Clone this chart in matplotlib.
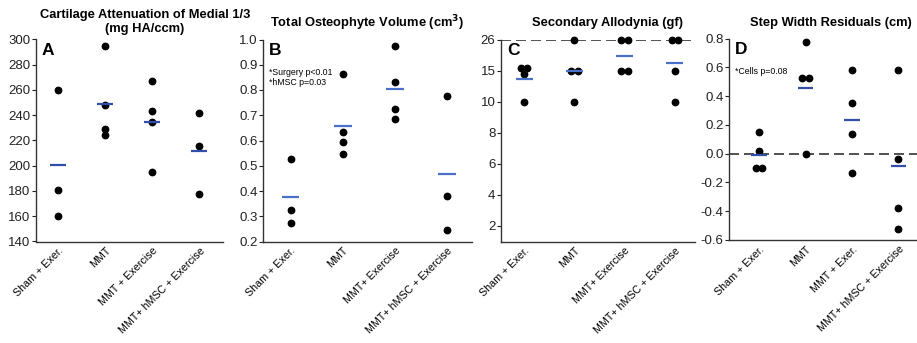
import numpy as np
import matplotlib
matplotlib.use('Agg')
import matplotlib.pyplot as plt
from matplotlib.transforms import ScaledTranslation

plt.rcParams['font.family'] = ['Liberation Sans', 'DejaVu Sans']

# data
groups_a = ['Sham + Exer.', 'MMT', 'MMT + Exercise', 'MMT+ hMSC + Exercise']
groups_b = ['Sham + Exer.', 'MMT', 'MMT+ Exercise', 'MMT+ hMSC + Exercise']
groups_c = ['Sham + Exer.', 'MMT', 'MMT+ Exercise', 'MMT+ hMSC + Exercise']
groups_d = ['Sham + Exer.', 'MMT', 'MMT + Exer.', 'MMT+ hMSC + Exercise']

cart_atten = [[260, 181, 160], [295, 248, 229, 224], [267, 243, 235, 195], [242, 216, 178]]
osteo_vol = [[0.525, 0.325, 0.275], [0.865, 0.632, 0.595, 0.545],
             [0.975, 0.83, 0.725, 0.687], [0.775, 0.38, 0.245]]
allodynia = [[15, 15, 15, 10], [26, 15, 15, 10], [26, 26, 15, 15], [26, 26, 15, 10]]
allodynia_means = [13.6, 15.0, 20.2, 17.8]
step_width = [[0.15, 0.02, -0.1, -0.1], [0.78, 0.53, 0.53, 0.0],
              [0.58, 0.355, 0.135, -0.135], [0.585, -0.035, -0.375, -0.525]]

c_ticks = [2, 4, 6, 8, 10, 15, 26]
c_pos = [1, 2, 3, 4, 5, 6, 7]


def c_fwd(v):
    return np.interp(v, [0] + c_ticks, [0] + c_pos)


def c_inv(p):
    return np.interp(p, [0] + c_pos, [0] + c_ticks)


fig = plt.figure(figsize=(9.17, 3.43), dpi=100)
W, H = 917, 343


def add_ax(x0, x1, y0=39.5, y1=241.5):
    return fig.add_axes([x0 / W, 1 - y1 / H, (x1 - x0) / W, (y1 - y0) / H])


def scatter_group(ax, i, vals, mean, mcolor):
    # spread duplicated values side by side like the original dot plot
    vals = list(vals)
    done = set()
    for v in vals:
        if v in done:
            continue
        done.add(v)
        n = vals.count(v)
        if n == 1:
            offs = [(0, 0)]
        elif n == 2:
            offs = [(-2.3, 0), (2.3, 0)]
        else:
            offs = [(-2.3, 1.8), (2.3, 1.8), (0, -2.3)]
        for dx, dy in offs:
            tr = ax.transData + ScaledTranslation(dx / 72, dy / 72, fig.dpi_scale_trans)
            ax.plot([i], [v], 'o', color='black', ms=4.6, transform=tr, zorder=3, clip_on=False)
    ax.hlines(mean, i - 0.17, i + 0.17, color=mcolor, lw=1.6, zorder=4)


def style(ax, groups, letter):
    for s in ['top', 'right']:
        ax.spines[s].set_visible(False)
    for s in ['left', 'bottom']:
        ax.spines[s].set_linewidth(1.0)
        ax.spines[s].set_color('#333333')
    ax.set_xticks(range(len(groups)))
    ax.set_xticklabels(groups, rotation=45, ha='right', rotation_mode='anchor', fontsize=7.7)
    ax.tick_params(axis='x', length=0, pad=3)
    ax.tick_params(axis='y', length=3, labelsize=9.5, colors='#222222', pad=1)
    ax.text(0.03, 0.985, letter, transform=ax.transAxes, fontsize=12.5, fontweight='bold', va='top')


# A
axA = add_ax(36, 223)
for i, vals in enumerate(cart_atten):
    scatter_group(axA, i, vals, np.mean(vals), '#2f4fa8')
axA.set_ylim(140, 300)
axA.set_yticks(range(140, 301, 20))
axA.set_xlim(-0.47, 3.5)
style(axA, groups_a, 'A')
fig.text(145 / W, 1 - 22 / H, 'Cartilage Attenuation of Medial 1/3\n(mg HA/ccm)', ha='center', va='center',
         fontsize=9.3, fontweight='bold', linespacing=1.15)

# B
axB = add_ax(263, 472)
for i, vals in enumerate(osteo_vol):
    scatter_group(axB, i, vals, np.mean(vals), '#4a70c8')
axB.set_ylim(0.2, 1.0)
axB.set_yticks(np.arange(0.2, 1.01, 0.1))
axB.set_yticklabels([f'{t:.1f}' for t in np.arange(0.2, 1.01, 0.1)])
axB.set_xlim(-0.53, 3.48)
style(axB, groups_b, 'B')
axB.text(0.03, 0.86, '*Surgery p<0.01\n*hMSC p=0.03', transform=axB.transAxes, fontsize=6.3, va='top')
fig.text(367 / W, 1 - 23 / H, 'Total Osteophyte Volume (cm$^\\mathbf{3}$)', ha='center', va='center',
         fontsize=9.3, fontweight='bold')

# C
axC = add_ax(501, 695)
axC.set_yscale('function', functions=(c_fwd, c_inv))
axC.axhline(26, color='#333333', lw=1.2, ls=(0, (6, 3)), zorder=1)
for i, vals in enumerate(allodynia):
    scatter_group(axC, i, vals, allodynia_means[i], '#4a70c8')
axC.set_ylim(1, 26)
axC.set_yticks(c_ticks)
axC.set_yticklabels([str(t) for t in c_ticks])
axC.minorticks_off()
axC.set_xlim(-0.46, 3.4)
style(axC, groups_c, 'C')
fig.text(607 / W, 1 - 23 / H, 'Secondary Allodynia (gf)', ha='center', va='center',
         fontsize=9.3, fontweight='bold')

# D
axD = add_ax(729, 917, 38.7, 240)
axD.axhline(0, color='#333333', lw=1.2, ls=(0, (6, 3)), zorder=1)
for i, vals in enumerate(step_width):
    scatter_group(axD, i, vals, np.mean(vals), '#2f4fa8')
axD.set_ylim(-0.6, 0.8)
axD.set_yticks(np.arange(-0.6, 0.81, 0.2))
axD.set_yticklabels([f'{t:.1f}' if abs(t) > 1e-9 else '0.0' for t in np.arange(-0.6, 0.81, 0.2)])
axD.set_xlim(-0.65, 3.4)
style(axD, groups_d, 'D')
axD.text(0.03, 0.86, '*Cells p=0.08', transform=axD.transAxes, fontsize=6.3, va='top')
fig.text(831 / W, 1 - 23 / H, 'Step Width Residuals (cm)', ha='center', va='center',
         fontsize=9.3, fontweight='bold')

fig.savefig('out.png', dpi=100)
